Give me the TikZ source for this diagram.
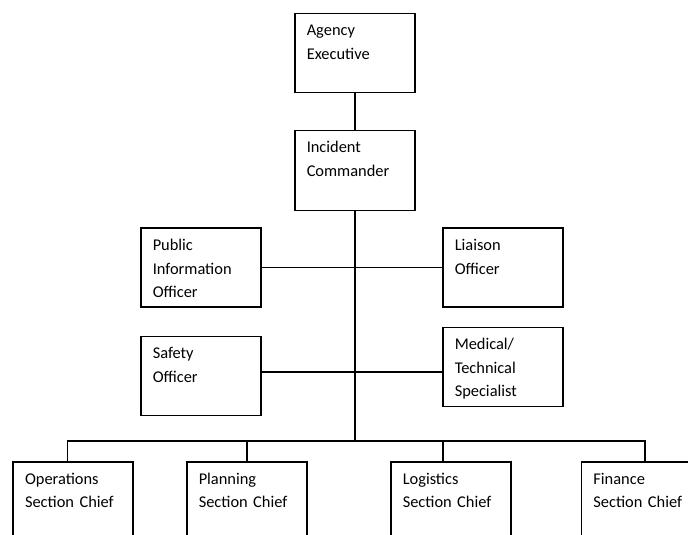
\documentclass[tikz,border=0pt]{standalone}
\usepackage{fontspec}
\setmainfont{Carlito}
\tikzset{every picture/.style={line width=1.5pt}}

\begin{document}
\begin{tikzpicture}[x=1pt,y=1pt,yscale=-1,xscale=1,
  unitbox/.style={draw, anchor=north west, minimum width=120pt,
    inner xsep=12pt, inner ysep=0pt, text width=96pt, align=left,
    text height=22.5pt, text depth=56.5pt,
    font=\fontsize{16.4}{23.5}\selectfont}]
\clip (0,0) rectangle (688,535);

% command staff
\node[unitbox] (agency) at (294,12.7) {Agency\\Executive};
\node[unitbox,text depth=57.5pt] (commander) at (294,129.5) {Incident\\Commander};
\node[unitbox] (pio) at (140,227.3) {Public\\Information\\Officer};
\node[unitbox] (liaison) at (442,227.3) {Liaison\\Officer};
\node[unitbox] (safety) at (140,335.7) {Safety\\Officer};
\node[unitbox] (medical) at (442,326.7) {Medical/\\Technical\\Specialist};

% general staff
\node[unitbox] (operations) at (12.3,461) {Operations\\Section Chief};
\node[unitbox] (planning) at (186,461) {Planning\\Section Chief};
\node[unitbox] (logistics) at (390,461) {Logistics\\Section Chief};
\node[unitbox] (finance) at (580.7,461) {Finance\\Section Chief};

\coordinate (staffline) at (354,372);
\coordinate (bus) at (354,441);

% connectors
\draw (agency.south) -- (commander.north);
\draw (commander.south) -- (commander.south |- bus);
\draw (pio.east) -- (liaison.west);
\draw (safety.east |- staffline) -- (medical.west |- staffline);
\draw ([xshift=-5.6pt]operations.north) |- ([xshift=3.3pt]finance.north |- bus) -- ([xshift=3.3pt]finance.north);
\draw (planning.north) -- (planning.north |- bus);
\draw ([xshift=-8pt]logistics.north) -- ([xshift=-8pt]logistics.north |- bus);

\end{tikzpicture}
\end{document}
